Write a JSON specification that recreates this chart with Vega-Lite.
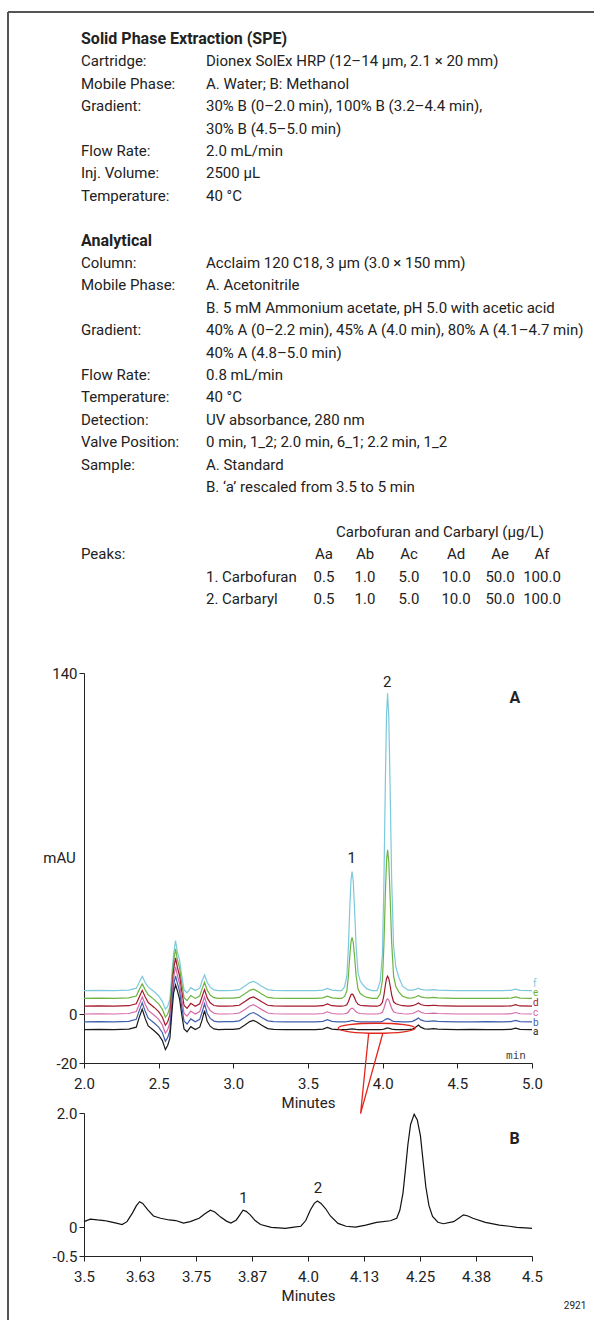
{
  "$schema": "https://vega.github.io/schema/vega-lite/v6.json",
  "padding": {"left": 7, "top": 11, "right": 0, "bottom": 0},
  "bounds": "flush",
  "spacing": 50,
  "config": {
    "font": "Roboto",
    "view": {"stroke": null},
    "axis": {"grid": false, "labelFontSize": 15, "titleFontSize": 15, "titleFontWeight": "normal", "labelColor": "#222", "titleColor": "#222", "domainColor": "#222", "tickColor": "#222", "tickSize": 5, "labelFlush": false, "labelFont": "Roboto", "titleFont": "Roboto"},
    "text": {"fontSize": 15, "color": "#222"}
  },
  "datasets": {
    "spec": [
      {"ln": 0, "c": 1, "k": "h", "s": "Solid Phase Extraction (SPE)"},
      {"ln": 1, "c": 1, "k": "t", "s": "Cartridge:"},
      {"ln": 1, "c": 2, "k": "t", "s": "Dionex SolEx HRP (12–14 µm, 2.1 × 20 mm)"},
      {"ln": 2, "c": 1, "k": "t", "s": "Mobile Phase:"},
      {"ln": 2, "c": 2, "k": "t", "s": "A. Water; B: Methanol"},
      {"ln": 3, "c": 1, "k": "t", "s": "Gradient:"},
      {"ln": 3, "c": 2, "k": "t", "s": "30% B (0–2.0 min), 100% B (3.2–4.4 min),"},
      {"ln": 4, "c": 2, "k": "t", "s": "30% B (4.5–5.0 min)"},
      {"ln": 5, "c": 1, "k": "t", "s": "Flow Rate:"},
      {"ln": 5, "c": 2, "k": "t", "s": "2.0 mL/min"},
      {"ln": 6, "c": 1, "k": "t", "s": "Inj. Volume:"},
      {"ln": 6, "c": 2, "k": "t", "s": "2500 µL"},
      {"ln": 7, "c": 1, "k": "t", "s": "Temperature:"},
      {"ln": 7, "c": 2, "k": "t", "s": "40 °C"},
      {"ln": 9, "c": 1, "k": "h", "s": "Analytical"},
      {"ln": 10, "c": 1, "k": "t", "s": "Column:"},
      {"ln": 10, "c": 2, "k": "t", "s": "Acclaim 120 C18, 3 µm (3.0 × 150 mm)"},
      {"ln": 11, "c": 1, "k": "t", "s": "Mobile Phase:"},
      {"ln": 11, "c": 2, "k": "t", "s": "A. Acetonitrile"},
      {"ln": 12, "c": 2, "k": "t", "s": "B. 5 mM Ammonium acetate, pH 5.0 with acetic acid"},
      {"ln": 13, "c": 1, "k": "t", "s": "Gradient:"},
      {"ln": 13, "c": 2, "k": "t", "s": "40% A (0–2.2 min), 45% A (4.0 min), 80% A (4.1–4.7 min)"},
      {"ln": 14, "c": 2, "k": "t", "s": "40% A (4.8–5.0 min)"},
      {"ln": 15, "c": 1, "k": "t", "s": "Flow  Rate:"},
      {"ln": 15, "c": 2, "k": "t", "s": "0.8 mL/min"},
      {"ln": 16, "c": 1, "k": "t", "s": "Temperature:"},
      {"ln": 16, "c": 2, "k": "t", "s": "40 °C"},
      {"ln": 17, "c": 1, "k": "t", "s": "Detection:"},
      {"ln": 17, "c": 2, "k": "t", "s": "UV absorbance, 280 nm"},
      {"ln": 18, "c": 1, "k": "t", "s": "Valve Position:"},
      {"ln": 18, "c": 2, "k": "t", "s": "0 min, 1_2; 2.0 min, 6_1; 2.2 min, 1_2"},
      {"ln": 19, "c": 1, "k": "t", "s": "Sample:"},
      {"ln": 19, "c": 2, "k": "t", "s": "A. Standard"},
      {"ln": 20, "c": 2, "k": "t", "s": "B. ‘a’ rescaled from 3.5 to 5 min"},
      {"ln": 22, "c": 9, "k": "t", "s": "Carbofuran and Carbaryl (µg/L)"},
      {"ln": 23, "c": 1, "k": "t", "s": "Peaks:"},
      {"ln": 23, "c": 3, "k": "t", "s": "Aa"},
      {"ln": 23, "c": 4, "k": "t", "s": "Ab"},
      {"ln": 23, "c": 5, "k": "t", "s": "Ac"},
      {"ln": 23, "c": 6, "k": "t", "s": "Ad"},
      {"ln": 23, "c": 7, "k": "t", "s": "Ae"},
      {"ln": 23, "c": 8, "k": "t", "s": "Af"},
      {"ln": 24, "c": 2, "k": "t", "s": "1. Carbofuran"},
      {"ln": 24, "c": 3, "k": "t", "s": "0.5"},
      {"ln": 24, "c": 4, "k": "t", "s": "1.0"},
      {"ln": 24, "c": 5, "k": "t", "s": "5.0"},
      {"ln": 24, "c": 6, "k": "t", "s": "10.0"},
      {"ln": 24, "c": 7, "k": "t", "s": "50.0"},
      {"ln": 24, "c": 8, "k": "t", "s": "100.0"},
      {"ln": 25, "c": 2, "k": "t", "s": "2. Carbaryl"},
      {"ln": 25, "c": 3, "k": "t", "s": "0.5"},
      {"ln": 25, "c": 4, "k": "t", "s": "1.0"},
      {"ln": 25, "c": 5, "k": "t", "s": "5.0"},
      {"ln": 25, "c": 6, "k": "t", "s": "10.0"},
      {"ln": 25, "c": 7, "k": "t", "s": "50.0"},
      {"ln": 25, "c": 8, "k": "t", "s": "100.0"}
    ],
    "frame": [
      {"edge": "left", "c": 0, "c2": 0, "ln": -1.2, "ln2": 57.2},
      {"edge": "top", "c": 0, "c2": 10, "ln": -1.2, "ln2": -1.2}
    ],
    "chromA": [
      {"t": 2.0, "a": -6.3, "b": -3.1, "c": 0.1, "d": 3.3, "e": 6.5, "f": 9.7},
      {"t": 2.1, "a": -6.2, "b": -3.0, "c": 0.2, "d": 3.4, "e": 6.6, "f": 9.8},
      {"t": 2.2, "a": -6.3, "b": -3.1, "c": 0.1, "d": 3.3, "e": 6.5, "f": 9.7},
      {"t": 2.3, "a": -6.1, "b": -2.9, "c": 0.3, "d": 3.5, "e": 6.7, "f": 9.9},
      {"t": 2.35, "a": -5.3, "b": -2.1, "c": 1.1, "d": 4.3, "e": 7.5, "f": 10.7},
      {"t": 2.37, "a": -1.3, "b": 1.5, "c": 4.1, "d": 7.1, "e": 10.1, "f": 13.1},
      {"t": 2.39, "a": 2.1, "b": 4.7, "c": 7.1, "d": 9.8, "e": 12.5, "f": 15.5},
      {"t": 2.41, "a": -1.8, "b": 1.2, "c": 4.1, "d": 7.1, "e": 10.0, "f": 12.9},
      {"t": 2.43, "a": -4.8, "b": -1.6, "c": 1.6, "d": 4.8, "e": 8.0, "f": 11.2},
      {"t": 2.47, "a": -6.8, "b": -3.6, "c": -0.4, "d": 2.8, "e": 6.0, "f": 9.2},
      {"t": 2.5, "a": -8.5, "b": -5.3, "c": -2.1, "d": 1.1, "e": 4.3, "f": 7.5},
      {"t": 2.525, "a": -10.8, "b": -7.6, "c": -4.4, "d": -1.2, "e": 2.0, "f": 5.2},
      {"t": 2.545, "a": -14.5, "b": -11.1, "c": -7.8, "d": -4.5, "e": -1.2, "f": 2.1},
      {"t": 2.56, "a": -12.8, "b": -9.6, "c": -6.4, "d": -3.2, "e": 0.0, "f": 3.2},
      {"t": 2.575, "a": -9.9, "b": -6.7, "c": -3.5, "d": -0.3, "e": 2.9, "f": 6.1},
      {"t": 2.59, "a": 1.7, "b": 4.9, "c": 8.1, "d": 11.3, "e": 14.5, "f": 17.7},
      {"t": 2.6, "a": 8.7, "b": 11.9, "c": 15.1, "d": 18.3, "e": 21.5, "f": 24.7},
      {"t": 2.613, "a": 12.1, "b": 15.7, "c": 19.4, "d": 23.1, "e": 26.8, "f": 30.2},
      {"t": 2.625, "a": 9.7, "b": 12.9, "c": 16.1, "d": 19.3, "e": 22.5, "f": 25.7},
      {"t": 2.64, "a": 6.2, "b": 9.4, "c": 12.6, "d": 15.8, "e": 19.0, "f": 22.2},
      {"t": 2.655, "a": -0.3, "b": 2.9, "c": 6.1, "d": 9.3, "e": 12.5, "f": 15.7},
      {"t": 2.67, "a": -6.0, "b": -2.8, "c": 0.4, "d": 3.6, "e": 6.8, "f": 10.0},
      {"t": 2.69, "a": -7.2, "b": -4.0, "c": -0.8, "d": 2.4, "e": 5.6, "f": 8.8},
      {"t": 2.715, "a": -5.1, "b": -1.9, "c": 1.3, "d": 4.5, "e": 7.7, "f": 10.9},
      {"t": 2.745, "a": -6.3, "b": -3.1, "c": 0.1, "d": 3.3, "e": 6.5, "f": 9.7},
      {"t": 2.775, "a": -5.3, "b": -2.1, "c": 1.1, "d": 4.3, "e": 7.5, "f": 10.7},
      {"t": 2.79, "a": -2.5, "b": 0.7, "c": 3.9, "d": 7.1, "e": 10.3, "f": 13.5},
      {"t": 2.807, "a": 1.5, "b": 4.3, "c": 7.1, "d": 10.1, "e": 13.1, "f": 16.1},
      {"t": 2.825, "a": -2.9, "b": 0.3, "c": 3.5, "d": 6.7, "e": 9.9, "f": 13.1},
      {"t": 2.845, "a": -4.9, "b": -1.7, "c": 1.5, "d": 4.7, "e": 7.9, "f": 11.1},
      {"t": 2.87, "a": -6.0, "b": -2.8, "c": 0.4, "d": 3.6, "e": 6.8, "f": 10.0},
      {"t": 2.9, "a": -6.3, "b": -3.1, "c": 0.1, "d": 3.3, "e": 6.5, "f": 9.7},
      {"t": 2.95, "a": -6.2, "b": -3.0, "c": 0.1, "d": 3.3, "e": 6.6, "f": 9.7},
      {"t": 3.0, "a": -6.2, "b": -3.0, "c": 0.2, "d": 3.4, "e": 6.6, "f": 9.8},
      {"t": 3.04, "a": -5.9, "b": -2.7, "c": 0.5, "d": 3.7, "e": 6.9, "f": 10.1},
      {"t": 3.08, "a": -4.3, "b": -1.1, "c": 2.1, "d": 5.3, "e": 8.5, "f": 11.7},
      {"t": 3.11, "a": -3.0, "b": 0.2, "c": 3.4, "d": 6.6, "e": 9.8, "f": 13.0},
      {"t": 3.135, "a": -2.5, "b": 0.7, "c": 3.9, "d": 7.1, "e": 10.3, "f": 13.5},
      {"t": 3.16, "a": -3.3, "b": -0.1, "c": 3.1, "d": 6.3, "e": 9.5, "f": 12.7},
      {"t": 3.19, "a": -4.5, "b": -1.3, "c": 1.9, "d": 5.1, "e": 8.3, "f": 11.5},
      {"t": 3.23, "a": -5.9, "b": -2.7, "c": 0.5, "d": 3.7, "e": 6.9, "f": 10.1},
      {"t": 3.27, "a": -6.2, "b": -3.0, "c": 0.2, "d": 3.4, "e": 6.6, "f": 9.8},
      {"t": 3.35, "a": -6.3, "b": -3.1, "c": 0.1, "d": 3.3, "e": 6.5, "f": 9.7},
      {"t": 3.45, "a": -6.3, "b": -3.1, "c": 0.1, "d": 3.3, "e": 6.5, "f": 9.7},
      {"t": 3.55, "a": -6.3, "b": -3.1, "c": 0.1, "d": 3.3, "e": 6.5, "f": 9.7},
      {"t": 3.6, "a": -6.1, "b": -2.9, "c": 0.3, "d": 3.5, "e": 6.7, "f": 9.9},
      {"t": 3.63, "a": -5.4, "b": -2.2, "c": 1.0, "d": 4.2, "e": 7.4, "f": 10.6},
      {"t": 3.66, "a": -6.1, "b": -2.9, "c": 0.3, "d": 3.5, "e": 6.7, "f": 9.9},
      {"t": 3.7, "a": -6.3, "b": -3.1, "c": 0.1, "d": 3.3, "e": 6.5, "f": 9.7},
      {"t": 3.725, "a": -6.3, "b": -3.1, "c": 0.1, "d": 3.3, "e": 6.5, "f": 9.7},
      {"t": 3.745, "a": -6.3, "b": -3.1, "c": 0.2, "d": 3.5, "e": 7.3, "f": 11.2},
      {"t": 3.76, "a": -6.3, "b": -3.0, "c": 0.4, "d": 3.9, "e": 9.5, "f": 15.6},
      {"t": 3.77, "a": -6.2, "b": -2.9, "c": 0.9, "d": 5.1, "e": 15.3, "f": 26.8},
      {"t": 3.78, "a": -6.1, "b": -2.8, "c": 1.8, "d": 6.8, "e": 24.0, "f": 43.9},
      {"t": 3.788, "a": -6.1, "b": -2.6, "c": 2.3, "d": 8.0, "e": 29.8, "f": 55.1},
      {"t": 3.795, "a": -6.0, "b": -2.6, "c": 2.5, "d": 8.3, "e": 31.5, "f": 58.5},
      {"t": 3.803, "a": -6.1, "b": -2.6, "c": 2.3, "d": 7.9, "e": 29.5, "f": 54.6},
      {"t": 3.812, "a": -6.1, "b": -2.8, "c": 1.7, "d": 6.7, "e": 23.5, "f": 42.9},
      {"t": 3.822, "a": -6.2, "b": -2.9, "c": 1.0, "d": 5.2, "e": 16.0, "f": 28.2},
      {"t": 3.835, "a": -6.3, "b": -3.0, "c": 0.5, "d": 4.1, "e": 10.3, "f": 17.0},
      {"t": 3.85, "a": -6.3, "b": -3.1, "c": 0.3, "d": 3.7, "e": 8.5, "f": 13.6},
      {"t": 3.87, "a": -6.3, "b": -3.1, "c": 0.2, "d": 3.5, "e": 7.6, "f": 11.9},
      {"t": 3.895, "a": -6.3, "b": -3.1, "c": 0.1, "d": 3.4, "e": 6.9, "f": 10.4},
      {"t": 3.93, "a": -6.3, "b": -3.1, "c": 0.1, "d": 3.3, "e": 6.5, "f": 9.7},
      {"t": 3.963, "a": -6.3, "b": -3.1, "c": 0.1, "d": 3.3, "e": 6.5, "f": 9.7},
      {"t": 3.983, "a": -6.3, "b": -3.1, "c": 0.3, "d": 3.7, "e": 8.3, "f": 13.4},
      {"t": 3.998, "a": -6.2, "b": -2.9, "c": 0.8, "d": 4.8, "e": 13.8, "f": 24.3},
      {"t": 4.008, "a": -6.1, "b": -2.6, "c": 2.3, "d": 7.6, "e": 27.9, "f": 52.4},
      {"t": 4.018, "a": -5.9, "b": -2.2, "c": 4.4, "d": 11.9, "e": 49.2, "f": 95.1},
      {"t": 4.026, "a": -5.7, "b": -1.9, "c": 5.9, "d": 14.7, "e": 63.2, "f": 123.2},
      {"t": 4.033, "a": -5.7, "b": -1.8, "c": 6.3, "d": 15.6, "e": 67.5, "f": 131.7},
      {"t": 4.041, "a": -5.7, "b": -1.9, "c": 5.8, "d": 14.6, "e": 62.6, "f": 121.9},
      {"t": 4.05, "a": -5.9, "b": -2.2, "c": 4.3, "d": 11.7, "e": 48.0, "f": 92.7},
      {"t": 4.06, "a": -6.1, "b": -2.6, "c": 2.5, "d": 8.0, "e": 29.7, "f": 56.1},
      {"t": 4.073, "a": -6.2, "b": -2.9, "c": 1.0, "d": 5.1, "e": 15.7, "f": 28.0},
      {"t": 4.088, "a": -6.3, "b": -3.0, "c": 0.6, "d": 4.3, "e": 11.4, "f": 19.5},
      {"t": 4.108, "a": -6.3, "b": -3.0, "c": 0.4, "d": 3.9, "e": 9.2, "f": 15.2},
      {"t": 4.133, "a": -6.3, "b": -3.1, "c": 0.2, "d": 3.5, "e": 7.4, "f": 11.5},
      {"t": 4.17, "a": -6.3, "b": -3.1, "c": 0.1, "d": 3.3, "e": 6.6, "f": 9.9},
      {"t": 4.2, "a": -6.1, "b": -2.9, "c": 0.3, "d": 3.5, "e": 6.7, "f": 9.9},
      {"t": 4.225, "a": -5.1, "b": -2.1, "c": 1.0, "d": 4.1, "e": 7.2, "f": 10.3},
      {"t": 4.24, "a": -4.4, "b": -1.5, "c": 1.5, "d": 4.6, "e": 7.7, "f": 10.7},
      {"t": 4.255, "a": -5.3, "b": -2.3, "c": 0.8, "d": 4.0, "e": 7.1, "f": 10.2},
      {"t": 4.28, "a": -6.0, "b": -2.8, "c": 0.4, "d": 3.6, "e": 6.8, "f": 10.0},
      {"t": 4.31, "a": -6.1, "b": -2.9, "c": 0.3, "d": 3.5, "e": 6.7, "f": 9.9},
      {"t": 4.34, "a": -5.9, "b": -2.7, "c": 0.5, "d": 3.7, "e": 6.9, "f": 10.1},
      {"t": 4.37, "a": -6.1, "b": -2.9, "c": 0.3, "d": 3.5, "e": 6.7, "f": 9.9},
      {"t": 4.42, "a": -6.2, "b": -3.0, "c": 0.2, "d": 3.4, "e": 6.6, "f": 9.8},
      {"t": 4.5, "a": -6.3, "b": -3.1, "c": 0.1, "d": 3.3, "e": 6.5, "f": 9.7},
      {"t": 4.6, "a": -6.2, "b": -3.1, "c": 0.1, "d": 3.3, "e": 6.5, "f": 9.7},
      {"t": 4.7, "a": -6.3, "b": -3.0, "c": 0.1, "d": 3.3, "e": 6.5, "f": 9.7},
      {"t": 4.8, "a": -6.3, "b": -3.1, "c": 0.1, "d": 3.3, "e": 6.5, "f": 9.7},
      {"t": 4.86, "a": -6.2, "b": -3.0, "c": 0.2, "d": 3.4, "e": 6.6, "f": 9.8},
      {"t": 4.89, "a": -5.7, "b": -2.5, "c": 0.7, "d": 3.9, "e": 7.1, "f": 10.3},
      {"t": 4.92, "a": -6.2, "b": -3.0, "c": 0.2, "d": 3.4, "e": 6.6, "f": 9.8},
      {"t": 5.0, "a": -6.3, "b": -3.1, "c": 0.1, "d": 3.3, "e": 6.5, "f": 9.7}
    ],
    "tracelabels": [
      {"s": "f", "t": 5.0, "v": 12.6},
      {"s": "e", "t": 5.0, "v": 8.6},
      {"s": "d", "t": 5.0, "v": 4.6},
      {"s": "c", "t": 5.0, "v": 0.6},
      {"s": "b", "t": 5.0, "v": -3.4},
      {"s": "a", "t": 5.0, "v": -7.4}
    ],
    "chromB": [
      {"t": 3.5, "v": 0.10}, {"t": 3.514, "v": 0.145}, {"t": 3.53, "v": 0.13}, {"t": 3.545, "v": 0.12},
      {"t": 3.557, "v": 0.10}, {"t": 3.572, "v": 0.075}, {"t": 3.585, "v": 0.05}, {"t": 3.596, "v": 0.10},
      {"t": 3.608, "v": 0.25}, {"t": 3.617, "v": 0.38}, {"t": 3.624, "v": 0.45}, {"t": 3.631, "v": 0.42},
      {"t": 3.642, "v": 0.31}, {"t": 3.655, "v": 0.20}, {"t": 3.671, "v": 0.16}, {"t": 3.69, "v": 0.13},
      {"t": 3.705, "v": 0.12}, {"t": 3.722, "v": 0.075}, {"t": 3.737, "v": 0.10}, {"t": 3.757, "v": 0.16},
      {"t": 3.77, "v": 0.24}, {"t": 3.782, "v": 0.30}, {"t": 3.792, "v": 0.27}, {"t": 3.805, "v": 0.18},
      {"t": 3.818, "v": 0.11}, {"t": 3.828, "v": 0.075}, {"t": 3.84, "v": 0.13}, {"t": 3.848, "v": 0.22},
      {"t": 3.855, "v": 0.30}, {"t": 3.862, "v": 0.28}, {"t": 3.871, "v": 0.22}, {"t": 3.882, "v": 0.12},
      {"t": 3.894, "v": 0.05}, {"t": 3.918, "v": 0.0}, {"t": 3.935, "v": -0.01}, {"t": 3.949, "v": -0.017},
      {"t": 3.965, "v": 0.0}, {"t": 3.984, "v": 0.02}, {"t": 3.995, "v": 0.12}, {"t": 4.005, "v": 0.30},
      {"t": 4.014, "v": 0.42}, {"t": 4.021, "v": 0.46}, {"t": 4.029, "v": 0.42}, {"t": 4.039, "v": 0.33},
      {"t": 4.05, "v": 0.20}, {"t": 4.067, "v": 0.07}, {"t": 4.085, "v": 0.02}, {"t": 4.106, "v": 0.006},
      {"t": 4.129, "v": 0.04}, {"t": 4.153, "v": 0.087}, {"t": 4.184, "v": 0.116}, {"t": 4.198, "v": 0.16},
      {"t": 4.205, "v": 0.30}, {"t": 4.212, "v": 0.60}, {"t": 4.218, "v": 1.05}, {"t": 4.223, "v": 1.45},
      {"t": 4.229, "v": 1.80}, {"t": 4.237, "v": 1.98}, {"t": 4.244, "v": 1.88}, {"t": 4.251, "v": 1.60},
      {"t": 4.257, "v": 1.15}, {"t": 4.263, "v": 0.71}, {"t": 4.27, "v": 0.38}, {"t": 4.278, "v": 0.19},
      {"t": 4.29, "v": 0.09}, {"t": 4.302, "v": 0.064}, {"t": 4.325, "v": 0.10}, {"t": 4.338, "v": 0.17},
      {"t": 4.347, "v": 0.22}, {"t": 4.357, "v": 0.20}, {"t": 4.368, "v": 0.16}, {"t": 4.396, "v": 0.087},
      {"t": 4.427, "v": 0.04}, {"t": 4.45, "v": 0.02}, {"t": 4.466, "v": 0.0}, {"t": 4.485, "v": -0.01},
      {"t": 4.5, "v": -0.017}
    ]
  },
  "vconcat": [
    {
      "width": 448,
      "height": 584,
      "layer": [
        {
          "data": {"name": "frame"},
          "mark": {"type": "rule", "stroke": "#555", "strokeWidth": 2},
          "encoding": {
            "x": {"field": "c", "type": "quantitative", "axis": null,
                  "scale": {"domain": [0, 1, 2, 3, 4, 5, 6, 7, 8, 9, 10], "range": [-76, -3, 122, 240, 281, 325, 372, 416, 458, 356, 520], "nice": false, "zero": false}},
            "x2": {"field": "c2"},
            "y": {"field": "ln", "type": "quantitative", "axis": null,
                  "scale": {"domain": [0, 26.07], "reverse": true, "nice": false, "zero": false}},
            "y2": {"field": "ln2"}
          }
        },
        {
          "data": {"name": "spec"},
          "transform": [{"filter": "datum.k == 'h'"}],
          "mark": {"type": "text", "align": "left", "fontWeight": "bold", "fontSize": 16},
          "encoding": {"x": {"field": "c", "type": "quantitative"}, "y": {"field": "ln", "type": "quantitative"}, "text": {"field": "s"}}
        },
        {
          "data": {"name": "spec"},
          "transform": [{"filter": "datum.k == 't' && datum.c <= 2"}],
          "mark": {"type": "text", "align": "left", "fontSize": 15},
          "encoding": {"x": {"field": "c", "type": "quantitative"}, "y": {"field": "ln", "type": "quantitative"}, "text": {"field": "s"}}
        },
        {
          "data": {"name": "spec"},
          "transform": [{"filter": "datum.k == 't' && datum.c >= 3"}],
          "mark": {"type": "text", "align": "center", "fontSize": 15},
          "encoding": {"x": {"field": "c", "type": "quantitative"}, "y": {"field": "ln", "type": "quantitative"}, "text": {"field": "s"}}
        }
      ]
    },
    {
      "width": 448,
      "height": 390,
      "layer": [
        {
          "data": {"name": "chromA"},
          "transform": [{"fold": ["f", "e", "d", "c", "b", "a"], "as": ["s", "v"]}],
          "mark": {"type": "line", "strokeWidth": 1.2},
          "encoding": {
            "x": {"field": "t", "type": "quantitative", "scale": {"domain": [2, 5], "nice": false, "zero": false},
                  "axis": {"values": [2, 2.5, 3, 3.5, 4, 4.5, 5], "format": ".1f", "title": "Minutes", "labelPadding": 8, "titlePadding": 4}},
            "y": {"field": "v", "type": "quantitative", "scale": {"domain": [-20, 140], "nice": false, "zero": false},
                  "axis": {"values": [-20, 0, 140], "labelExpr": "replace(datum.label, '−', '-')", "title": "mAU", "titleAngle": 0, "titleX": -25, "titleY": 184, "titleAlign": "center", "titleBaseline": "middle", "labelPadding": 2}},
            "color": {"field": "s", "type": "nominal", "legend": null,
                      "scale": {"domain": ["a", "b", "c", "d", "e", "f"], "range": ["#1a1a1a", "#3f5fae", "#d668a8", "#a2192b", "#6db33f", "#7cc8dc"]}}
          }
        },
        {
          "data": {"name": "tracelabels"},
          "mark": {"type": "text", "align": "left", "dx": 1, "fontSize": 10},
          "encoding": {
            "x": {"field": "t", "type": "quantitative"},
            "y": {"field": "v", "type": "quantitative"},
            "text": {"field": "s"},
            "color": {"field": "s", "type": "nominal", "legend": null}
          }
        },
        {
          "data": {"values": [{"t": 3.793, "v": 64.3, "lab": "1"}, {"t": 4.031, "v": 136.2, "lab": "2"}]},
          "mark": {"type": "text", "fontSize": 15},
          "encoding": {"x": {"field": "t", "type": "quantitative"}, "y": {"field": "v", "type": "quantitative"}, "text": {"field": "lab"}}
        },
        {
          "data": {"values": [{"t": 4.886, "v": 129.8, "lab": "A"}]},
          "mark": {"type": "text", "fontSize": 16, "fontWeight": "bold"},
          "encoding": {"x": {"field": "t", "type": "quantitative"}, "y": {"field": "v", "type": "quantitative"}, "text": {"field": "lab"}}
        },
        {
          "data": {"values": [{"t": 4.893, "v": -17.1, "lab": "min"}]},
          "mark": {"type": "text", "fontSize": 11, "font": "DejaVu Sans Mono", "color": "#444"},
          "encoding": {"x": {"field": "t", "type": "quantitative"}, "y": {"field": "v", "type": "quantitative"}, "text": {"field": "lab"}}
        },
        {
          "data": {"values": [{"t": 3.96, "v": -5.75}]},
          "mark": {"type": "point", "shape": "M -1 0 A 1 0.13 0 1 0 1 0 A 1 0.13 0 1 0 -1 0 Z", "size": 5929, "filled": false, "stroke": "#e2261d", "strokeWidth": 1.3, "opacity": 1},
          "encoding": {"x": {"field": "t", "type": "quantitative"}, "y": {"field": "v", "type": "quantitative"}}
        },
        {
          "data": {"values": [{"t": 3.906, "v": -8.0, "o": 1}, {"t": 3.852, "v": -40.8, "o": 2}, {"t": 4.0, "v": -8.0, "o": 3}]},
          "mark": {"type": "line", "stroke": "#e2261d", "strokeWidth": 1.3},
          "encoding": {"x": {"field": "t", "type": "quantitative"}, "y": {"field": "v", "type": "quantitative"}, "order": {"field": "o", "type": "quantitative"}}
        }
      ]
    },
    {
      "width": 448,
      "height": 143,
      "layer": [
        {
          "data": {"name": "chromB"},
          "mark": {"type": "line", "strokeWidth": 1.2, "color": "#111"},
          "encoding": {
            "x": {"field": "t", "type": "quantitative", "scale": {"domain": [3.5, 4.5], "nice": false, "zero": false},
                  "axis": {"values": [3.5, 3.625, 3.75, 3.875, 4.0, 4.125, 4.25, 4.375, 4.5], "labelExpr": "['3.5','3.63','3.75','3.87','4.0','4.13','4.25','4.38','4.5'][round((datum.value-3.5)*8)]", "title": "Minutes", "labelPadding": 8, "titlePadding": 4}},
            "y": {"field": "v", "type": "quantitative", "scale": {"domain": [-0.5, 2.0], "nice": false, "zero": false},
                  "axis": {"values": [-0.5, 0, 2.0], "labelExpr": "datum.value == 0 ? '0' : replace(format(datum.value, '.1f'), '−', '-')", "title": null, "labelPadding": 2}}
          }
        },
        {
          "data": {"values": [{"t": 3.856, "v": 0.51, "lab": "1"}, {"t": 4.022, "v": 0.69, "lab": "2"}]},
          "mark": {"type": "text", "fontSize": 15},
          "encoding": {"x": {"field": "t", "type": "quantitative"}, "y": {"field": "v", "type": "quantitative"}, "text": {"field": "lab"}}
        },
        {
          "data": {"values": [{"t": 4.461, "v": 1.54, "lab": "B"}]},
          "mark": {"type": "text", "fontSize": 16, "fontWeight": "bold"},
          "encoding": {"x": {"field": "t", "type": "quantitative"}, "y": {"field": "v", "type": "quantitative"}, "text": {"field": "lab"}}
        },
        {
          "data": {"values": [{"t": 4.596, "v": -1.38, "lab": "2921"}]},
          "mark": {"type": "text", "fontSize": 10},
          "encoding": {"x": {"field": "t", "type": "quantitative"}, "y": {"field": "v", "type": "quantitative"}, "text": {"field": "lab"}}
        }
      ]
    }
  ]
}
